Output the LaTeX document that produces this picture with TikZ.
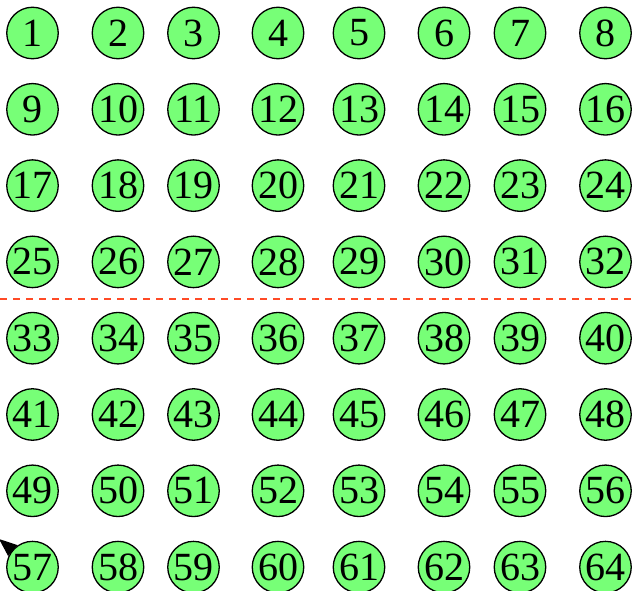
\documentclass[tikz,border=0pt]{standalone}
\usepackage{fontspec}
\setmainfont{Liberation Serif}
\usetikzlibrary{arrows.meta,backgrounds}
\definecolor{CellGreen}{HTML}{77FF77}
\definecolor{SplitRed}{HTML}{FF4A26}
\tikzset{
  cell/.style={circle,draw=black,line width=1.3pt,fill=CellGreen,
    minimum size=51.5pt,inner sep=0pt,font=\fontsize{40}{40}\selectfont},
  split/.style={SplitRed,line width=2pt,dash pattern=on 7pt off 6pt},
}

\begin{document}
\begin{tikzpicture}[x=1pt,y=-1pt]
  \useasboundingbox (0,0) rectangle (632,591);
  % --- 8 x 8 grid of numbered cells ---
  \foreach \cx [count=\col] in {32.5,118,193.5,278,359,444,520,605.5}
    \foreach \row in {0,...,7}{
      \pgfmathtruncatemacro{\num}{\row*8+\col}
      \node[cell] (n\num) at (\cx,{33+76.3*\row}) {\num};
    }
  % --- split line between the upper and lower halves ---
  \coordinate (splitL) at (0,299);
  \coordinate (splitR) at (632,299);
  \draw[split] (splitL) -- (splitR);
  % --- arrow leaving cell 57 ---
  \coordinate (tip) at (-1,539);
  \begin{scope}[on background layer]
    \draw[-{Triangle[length=18pt,width=14pt]},line width=1.5pt] (n57.center) -- (tip);
  \end{scope}
\end{tikzpicture}
\end{document}
